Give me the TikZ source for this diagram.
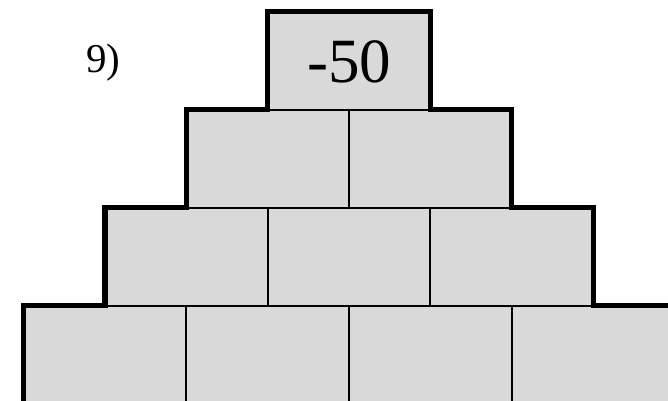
\documentclass[tikz,border=0pt]{standalone}
\usepackage{fontspec}
\setmainfont{Liberation Serif}
\begin{document}
\begin{tikzpicture}[x=1pt,y=-1pt,
  cell/.style={draw=black,line width=2pt,fill=cellgray,rectangle,inner sep=0pt,outer sep=0pt,
    minimum width=162.75pt,minimum height=98pt},
  outline/.style={draw=black,line width=5.3pt,line join=miter}]
\definecolor{cellgray}{RGB}{217,217,217}
\path[use as bounding box] (0,0) rectangle (668,400);
\clip (0,0) rectangle (668,400);
% row 4 (bottom)
\node[cell] (d1) at (104.9,354.5) {};
\node[cell] (d2) at (267.6,354.5) {};
\node[cell] (d3) at (430.4,354.5) {};
\node[cell] (d4) at (593.1,354.5) {};
% row 3
\node[cell] (c1) at (186.3,256.5) {};
\node[cell] (c2) at (349.0,256.5) {};
\node[cell] (c3) at (511.8,256.5) {};
% row 2
\node[cell] (b1) at (267.6,158.5) {};
\node[cell] (b2) at (430.4,158.5) {};
% row 1
\node[cell] (a1) at (349.0,60.5) {};
\node (val) at (349.5,61.5) {\fontsize{63}{70}\selectfont -50};
% outline
\draw[outline] (d1.south west) ++(0,10) -- (d1.north west) -- (c1.south west)
  -- (c1.north west) -- (b1.south west) -- (b1.north west) -- (a1.south west)
  -- (a1.north west) -- (a1.north east) -- (a1.south east) -- (b2.north east)
  -- (b2.south east) -- (c3.north east) -- (c3.south east) -- (d4.north east) -- ++(20,0);
% label
\node[anchor=base] (lbl) at (103.5,72) {\fontsize{41}{48}\selectfont 9)};
\end{tikzpicture}
\end{document}
